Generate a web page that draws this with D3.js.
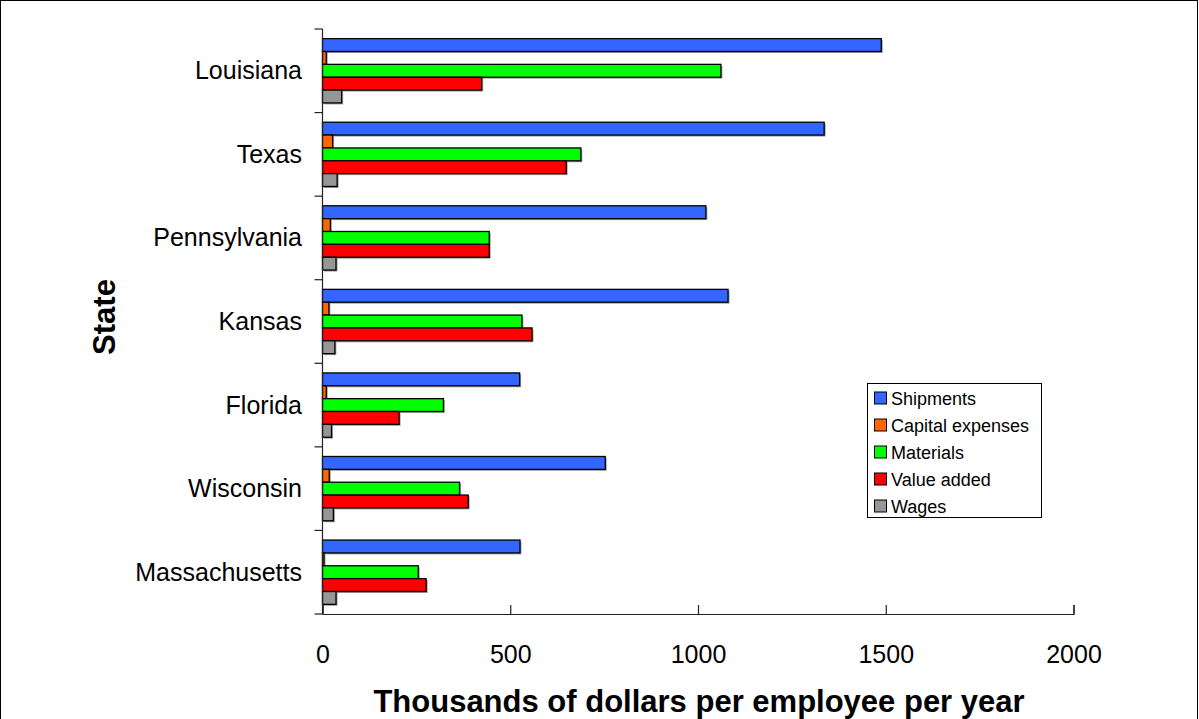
<!DOCTYPE html>
<html>
<head>
<meta charset="utf-8">
<script src="https://cdn.jsdelivr.net/npm/d3@7"></script>
<style>
  html, body { margin: 0; padding: 0; background: #fff; }
  svg { display: block; font-family: "Liberation Sans", Arial, sans-serif; }
</style>
</head>
<body>
<svg id="chart" width="1199" height="719"></svg>
<script>
// States, top to bottom
const states = ["Louisiana", "Texas", "Pennsylvania", "Kansas", "Florida", "Wisconsin", "Massachusetts"];
const seriesNames = ["Shipments", "Capital expenses", "Materials", "Value added", "Wages"];
const seriesColors = ["#3366FF", "#FF6600", "#00FF00", "#FF0000", "#969696"];

// Thousands of dollars per employee per year
const shipments       = [1488, 1336, 1021, 1080, 525, 753, 526];
const capitalExpenses = [10, 27, 21, 17, 10, 18, 4];
const materials       = [1061, 688, 444, 531, 322, 365, 255];
const valueAdded      = [424, 649, 444, 558, 204, 388, 276];
const wages           = [51, 39, 36, 33, 24, 29, 36];

const xTicks = [0, 500, 1000, 1500, 2000];

const seriesValues = [shipments, capitalExpenses, materials, valueAdded, wages];

const svg = d3.select("#chart");

// Chart frame
svg.append("rect")
  .attr("x", 0.5).attr("y", 0.5)
  .attr("width", 1197).attr("height", 730)
  .attr("fill", "none").attr("stroke", "#000").attr("stroke-width", 1);

const plot = { left: 322.5, right: 1073.5, top: 29, bottom: 614 };

const x = d3.scaleLinear().domain([0, 2000]).range([plot.left, plot.right]);
const y = d3.scaleBand().domain(states).range([plot.top, plot.bottom]).paddingInner(0).paddingOuter(0);

// Excel-style gap width of 150% within each category
const gapRatio = 1.5;
const barH = y.bandwidth() / (seriesNames.length + gapRatio);
const offset0 = (y.bandwidth() - barH * seriesNames.length) / 2;

const groups = svg.append("g").selectAll("g")
  .data(states)
  .join("g")
  .attr("transform", d => `translate(0,${y(d)})`);

seriesNames.forEach((name, si) => {
  const vals = seriesValues[si];
  // drop shadow
  groups.append("rect")
    .attr("x", x(0) + 1.5)
    .attr("y", offset0 + si * barH + 1.5)
    .attr("width", d => Math.max(0, x(vals[states.indexOf(d)]) - x(0)))
    .attr("height", barH)
    .attr("fill", "#a0a0a0");
  groups.append("rect")
    .attr("x", x(0))
    .attr("y", offset0 + si * barH)
    .attr("width", d => Math.max(0, x(vals[states.indexOf(d)]) - x(0)))
    .attr("height", barH)
    .attr("fill", seriesColors[si])
    .attr("stroke", "#000")
    .attr("stroke-width", 1.3);
});

// Category axis (left)
const yAxisG = svg.append("g");
yAxisG.append("line")
  .attr("x1", plot.left).attr("x2", plot.left)
  .attr("y1", plot.top).attr("y2", plot.bottom)
  .attr("stroke", "#222").attr("stroke-width", 1.2);
const yBounds = states.map(s => y(s)).concat([plot.bottom]);
yAxisG.selectAll("line.tick")
  .data(yBounds)
  .join("line")
  .attr("class", "tick")
  .attr("x1", plot.left - 8).attr("x2", plot.left)
  .attr("y1", d => d).attr("y2", d => d)
  .attr("stroke", "#222").attr("stroke-width", 1.2);
yAxisG.selectAll("text")
  .data(states)
  .join("text")
  .attr("x", 302)
  .attr("y", d => y(d) + y.bandwidth() / 2 + 8.5)
  .attr("text-anchor", "end")
  .attr("font-size", 25)
  .attr("fill", "#000")
  .text(d => d);

// Value axis (bottom) with inward ticks
const xAxisG = svg.append("g").attr("transform", `translate(0,${plot.bottom})`);
xAxisG.call(d3.axisBottom(x).tickValues(xTicks).tickSize(-9).tickPadding(0).tickFormat(d3.format("d")));
xAxisG.select(".domain").attr("stroke", "#222").attr("stroke-width", 1.2);
xAxisG.selectAll(".tick line").attr("stroke", "#222").attr("stroke-width", 1.2);
xAxisG.selectAll(".tick text")
  .attr("y", 49)
  .attr("dy", 0)
  .attr("font-size", 25)
  .attr("font-family", "Liberation Sans, Arial, sans-serif")
  .attr("fill", "#000");

// Axis titles
svg.append("text")
  .attr("x", 699)
  .attr("y", 712)
  .attr("text-anchor", "middle")
  .attr("font-size", 31)
  .attr("font-weight", "bold")
  .text("Thousands of dollars per employee per year");

svg.append("text")
  .attr("transform", `translate(115,317) rotate(-90)`)
  .attr("text-anchor", "middle")
  .attr("font-size", 31)
  .attr("font-weight", "bold")
  .text("State");

// Legend
const legend = svg.append("g");
legend.append("rect")
  .attr("x", 867.5).attr("y", 383.5)
  .attr("width", 174).attr("height", 134)
  .attr("fill", "#fff").attr("stroke", "#000").attr("stroke-width", 1);
const legendRow = d3.scalePoint().domain(seriesNames).range([398, 506]);
const items = legend.selectAll("g.item")
  .data(seriesNames)
  .join("g")
  .attr("class", "item")
  .attr("transform", d => `translate(874,${legendRow(d)})`);
items.append("rect")
  .attr("x", 0.5).attr("y", -6)
  .attr("width", 12).attr("height", 12)
  .attr("fill", (d, i) => seriesColors[i])
  .attr("stroke", "#000").attr("stroke-width", 1);
items.append("text")
  .attr("x", 17)
  .attr("y", 6.5)
  .attr("font-size", 18)
  .text(d => d);
</script>
</body>
</html>
